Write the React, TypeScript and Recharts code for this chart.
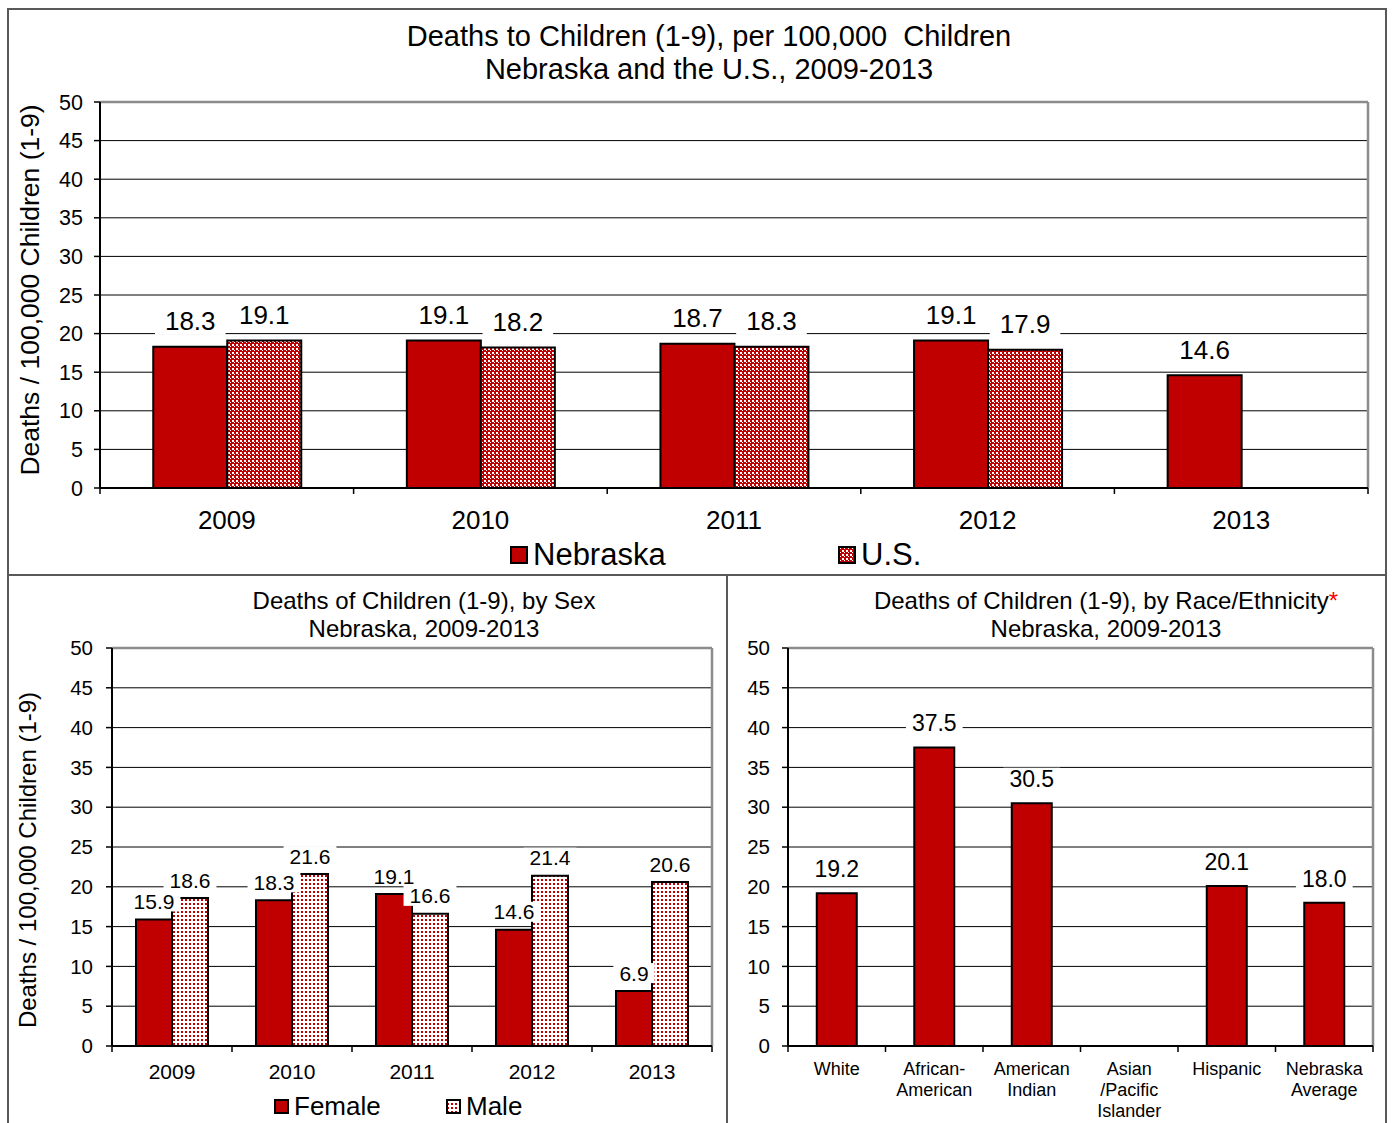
import React from "react";
import { BarChart, Bar, XAxis, YAxis, CartesianGrid, LabelList } from "recharts";

const YEARS = ["2009", "2010", "2011", "2012", "2013"];
const NEBRASKA_RATES = [18.3, 19.1, 18.7, 19.1, 14.6];
const US_RATES: (number | null)[] = [19.1, 18.2, 18.3, 17.9, null];
const FEMALE_RATES = [15.9, 18.3, 19.1, 14.6, 6.9];
const MALE_RATES = [18.6, 21.6, 16.6, 21.4, 20.6];
const RACES = [
  "White",
  "African-\nAmerican",
  "American\nIndian",
  "Asian\n/Pacific\nIslander",
  "Hispanic",
  "Nebraska\nAverage",
];
const RACE_RATES: (number | null)[] = [19.2, 37.5, 30.5, null, 20.1, 18.0];
const RATE_TICKS = [0, 5, 10, 15, 20, 25, 30, 35, 40, 45, 50];

const RED = "#C00000";
const FRAME = "#595959";
const PLOT_BORDER = "#8c8c8c";
const FONT = '"Liberation Sans", Arial, Helvetica, sans-serif';
const Y_LABEL = "Deaths / 100,000 Children (1-9)";

const yearData = YEARS.map((year, i) => ({ year, nebraska: NEBRASKA_RATES[i], us: US_RATES[i] }));
const sexData = YEARS.map((year, i) => ({ year, female: FEMALE_RATES[i], male: MALE_RATES[i] }));
const raceData = RACES.map((race, i) => ({ race, rate: RACE_RATES[i] }));

// rough Arial width for numeric labels
const textWidth = (s: string, size: number) =>
  s.split("").reduce((w, c) => w + (c === "." ? 0.278 : 0.556), 0) * size;

function valueLabel(fontSize: number, gap: number, padX: number, boxH: number) {
  return (props: any) => {
    const vb = props.viewBox || {};
    const value = props.value;
    if (value === null || value === undefined) return null;
    const x = Number(props.x ?? vb.x);
    const y = Number(props.y ?? vb.y);
    const width = Number(props.width ?? vb.width);
    const text = Number(value).toFixed(1);
    const cx = x + width / 2;
    const cy = y - gap;
    const w = textWidth(text, fontSize) + padX * 2;
    return (
      <g>
        <rect x={cx - w / 2} y={cy - boxH / 2} width={w} height={boxH} fill="#fff" />
        <text x={cx} y={cy} dy="0.36em" textAnchor="middle" fontSize={fontSize} fill="#000">
          {text}
        </text>
      </g>
    );
  };
}

// category label with tick marks on the band boundaries
function categoryTick(band: number, count: number, fontSize: number, firstDy: number, lineGap: number) {
  return (props: any) => {
    const { x, y, payload, index } = props;
    const lines = String(payload.value).split("\n");
    const left = x - band / 2;
    const right = x + band / 2;
    return (
      <g>
        <line x1={left} x2={left} y1={y} y2={y + 6} stroke="#000" strokeWidth={1.5} />
        {index === count - 1 && (
          <line x1={right} x2={right} y1={y} y2={y + 6} stroke="#000" strokeWidth={1.5} />
        )}
        <text x={x} y={y + firstDy} textAnchor="middle" fontSize={fontSize} fill="#000">
          {lines.map((line, i) => (
            <tspan key={i} x={x} dy={i === 0 ? "0.36em" : lineGap}>
              {line}
            </tspan>
          ))}
        </text>
      </g>
    );
  };
}

function Patterns() {
  return (
    <svg width={0} height={0} style={{ position: "absolute" }}>
      <defs>
        <pattern id="usChecker" patternUnits="userSpaceOnUse" width={4} height={4}>
          <rect width={4} height={4} fill={RED} />
          <rect x={0} y={0} width={2} height={2} fill="#fff" />
          <rect x={2} y={2} width={1} height={1} fill="#fff" />
        </pattern>
        <pattern id="maleDots" patternUnits="userSpaceOnUse" width={4} height={4}>
          <rect width={4} height={4} fill="#fff" />
          <rect x={1} y={0} width={2} height={2} fill={RED} />
        </pattern>
      </defs>
    </svg>
  );
}

function LegendItem(props: {
  left: number;
  centerY: number;
  size: number;
  fill: string;
  label: string;
  fontSize: number;
  gap: number;
}) {
  const { left, centerY, size, fill, label, fontSize, gap } = props;
  return (
    <div
      style={{
        position: "absolute",
        left,
        top: centerY - 20,
        height: 40,
        display: "flex",
        alignItems: "center",
        gap,
        fontSize,
        whiteSpace: "nowrap",
      }}
    >
      <svg width={size} height={size} style={{ display: "block" }}>
        <rect x={1} y={1} width={size - 2} height={size - 2} fill={fill} stroke="#000" strokeWidth={2} />
      </svg>
      <span>{label}</span>
    </div>
  );
}

function RotatedLabel({ cx, cy, fontSize }: { cx: number; cy: number; fontSize: number }) {
  return (
    <div
      style={{
        position: "absolute",
        left: cx,
        top: cy,
        transform: "translate(-50%, -50%) rotate(-90deg)",
        fontSize,
        whiteSpace: "nowrap",
      }}
    >
      {Y_LABEL}
    </div>
  );
}

function Title({ cx, top, fontSize, lineHeight, children }: any) {
  return (
    <div
      style={{
        position: "absolute",
        left: cx - 400,
        top,
        width: 800,
        textAlign: "center",
        fontSize,
        lineHeight: `${lineHeight}px`,
        whiteSpace: "pre",
      }}
    >
      {children}
    </div>
  );
}

function TopChart() {
  const width = 1393;
  const height = 575;
  const margin = { top: 102, right: 25, bottom: 57, left: 40 };
  const plotLeft = margin.left + 60;
  const plotRight = width - margin.right;
  const band = (plotRight - plotLeft) / YEARS.length;
  return (
    <div style={{ position: "absolute", left: 0, top: 0 }}>
      <BarChart width={width} height={height} data={yearData} margin={margin} barCategoryGap="21%" barGap={0}>
        <CartesianGrid vertical={false} stroke="#000" strokeWidth={1} />
        <CartesianGrid horizontalPoints={[margin.top]} verticalPoints={[plotRight]} stroke={PLOT_BORDER} strokeWidth={2.5} />
        <XAxis
          dataKey="year"
          height={30}
          interval={0}
          tickSize={0}
          tickMargin={0}
          tickLine={false}
          axisLine={{ stroke: "#000", strokeWidth: 2 }}
          tick={categoryTick(band, YEARS.length, 26, 32, 0)}
        />
        <YAxis
          width={60}
          domain={[0, 50]}
          ticks={RATE_TICKS}
          interval={0}
          tickSize={6}
          tickMargin={11}
          axisLine={{ stroke: "#000", strokeWidth: 2 }}
          tickLine={{ stroke: "#000", strokeWidth: 1.5 }}
          tick={{ fontSize: 21.5, fill: "#000" }}
        />
        <Bar dataKey="nebraska" fill={RED} stroke="#000" strokeWidth={2} isAnimationActive={false}>
          <LabelList dataKey="nebraska" content={valueLabel(26, 26, 10, 28)} />
        </Bar>
        <Bar dataKey="us" fill="url(#usChecker)" stroke="#000" strokeWidth={2} isAnimationActive={false}>
          <LabelList dataKey="us" content={valueLabel(26, 26, 10, 28)} />
        </Bar>
      </BarChart>
    </div>
  );
}

function SexChart() {
  const width = 727;
  const height = 548;
  const margin = { top: 73, right: 15, bottom: 47, left: 52 };
  const plotLeft = margin.left + 60;
  const plotRight = width - margin.right;
  const band = (plotRight - plotLeft) / YEARS.length;
  return (
    <div style={{ position: "absolute", left: 0, top: 575 }}>
      <BarChart width={width} height={height} data={sexData} margin={margin} barCategoryGap="20%" barGap={0}>
        <CartesianGrid vertical={false} stroke="#000" strokeWidth={1} />
        <CartesianGrid horizontalPoints={[margin.top]} verticalPoints={[plotRight]} stroke={PLOT_BORDER} strokeWidth={2.5} />
        <XAxis
          dataKey="year"
          height={30}
          interval={0}
          tickSize={0}
          tickMargin={0}
          tickLine={false}
          axisLine={{ stroke: "#000", strokeWidth: 2 }}
          tick={categoryTick(band, YEARS.length, 21, 25, 0)}
        />
        <YAxis
          width={60}
          domain={[0, 50]}
          ticks={RATE_TICKS}
          interval={0}
          tickSize={6}
          tickMargin={13}
          axisLine={{ stroke: "#000", strokeWidth: 2 }}
          tickLine={{ stroke: "#000", strokeWidth: 1.5 }}
          tick={{ fontSize: 20.5, fill: "#000" }}
        />
        <Bar dataKey="female" fill={RED} stroke="#000" strokeWidth={2} isAnimationActive={false}>
          <LabelList dataKey="female" content={valueLabel(21, 18, 6, 20)} />
        </Bar>
        <Bar dataKey="male" fill="url(#maleDots)" stroke="#000" strokeWidth={2} isAnimationActive={false}>
          <LabelList dataKey="male" content={valueLabel(21, 18, 6, 20)} />
        </Bar>
      </BarChart>
    </div>
  );
}

function RaceChart() {
  const width = 666;
  const height = 548;
  const margin = { top: 73, right: 20, bottom: 47, left: 11 };
  const plotLeft = margin.left + 50;
  const plotRight = width - margin.right;
  const band = (plotRight - plotLeft) / RACES.length;
  return (
    <div style={{ position: "absolute", left: 727, top: 575 }}>
      <BarChart width={width} height={height} data={raceData} margin={margin} barCategoryGap="29.5%" barGap={0}>
        <CartesianGrid vertical={false} stroke="#000" strokeWidth={1} />
        <CartesianGrid horizontalPoints={[margin.top]} verticalPoints={[plotRight]} stroke={PLOT_BORDER} strokeWidth={2.5} />
        <XAxis
          dataKey="race"
          height={30}
          interval={0}
          tickSize={0}
          tickMargin={0}
          tickLine={false}
          axisLine={{ stroke: "#000", strokeWidth: 2 }}
          tick={categoryTick(band, RACES.length, 18, 23, 21)}
        />
        <YAxis
          width={50}
          domain={[0, 50]}
          ticks={RATE_TICKS}
          interval={0}
          tickSize={6}
          tickMargin={12}
          axisLine={{ stroke: "#000", strokeWidth: 2 }}
          tickLine={{ stroke: "#000", strokeWidth: 1.5 }}
          tick={{ fontSize: 20.5, fill: "#000" }}
        />
        <Bar dataKey="rate" fill={RED} stroke="#000" strokeWidth={2} isAnimationActive={false}>
          <LabelList dataKey="rate" content={valueLabel(23, 24.5, 6, 22)} />
        </Bar>
      </BarChart>
    </div>
  );
}

export default function App() {
  return (
    <div
      style={{
        position: "absolute",
        left: 0,
        top: 0,
        width: 1393,
        height: 1123,
        overflow: "hidden",
        background: "#fff",
        fontFamily: FONT,
        color: "#000",
      }}
    >
      <Patterns />
      {/* frame */}
      <div
        style={{
          position: "absolute",
          left: 7,
          top: 8,
          width: 1380,
          height: 1130,
          border: `2px solid ${FRAME}`,
          boxSizing: "border-box",
        }}
      />
      <div style={{ position: "absolute", left: 8, top: 574, width: 1378, height: 2, background: FRAME }} />
      <div style={{ position: "absolute", left: 726, top: 575, width: 2, height: 560, background: FRAME }} />

      <Title cx={709} top={20} fontSize={29} lineHeight={33}>
        {"Deaths to Children (1-9), per 100,000  Children\nNebraska and the U.S., 2009-2013"}
      </Title>
      <RotatedLabel cx={30} cy={290} fontSize={26.5} />
      <TopChart />
      <LegendItem left={510} centerY={555} size={18} fill={RED} label="Nebraska" fontSize={31} gap={5} />
      <LegendItem left={838} centerY={555} size={18} fill="url(#usChecker)" label="U.S." fontSize={31} gap={5} />

      <Title cx={424} top={587} fontSize={24} lineHeight={28}>
        {"Deaths of Children (1-9), by Sex\nNebraska, 2009-2013"}
      </Title>
      <RotatedLabel cx={28} cy={860} fontSize={24} />
      <SexChart />
      <LegendItem left={274} centerY={1106} size={15} fill={RED} label="Female" fontSize={26} gap={5} />
      <LegendItem left={446} centerY={1106} size={15} fill="url(#maleDots)" label="Male" fontSize={26} gap={5} />

      <Title cx={1106} top={587} fontSize={24} lineHeight={28}>
        {"Deaths of Children (1-9), by Race/Ethnicity"}
        <span style={{ color: "#ff0000" }}>*</span>
        {"\nNebraska, 2009-2013"}
      </Title>
      <RaceChart />
    </div>
  );
}
